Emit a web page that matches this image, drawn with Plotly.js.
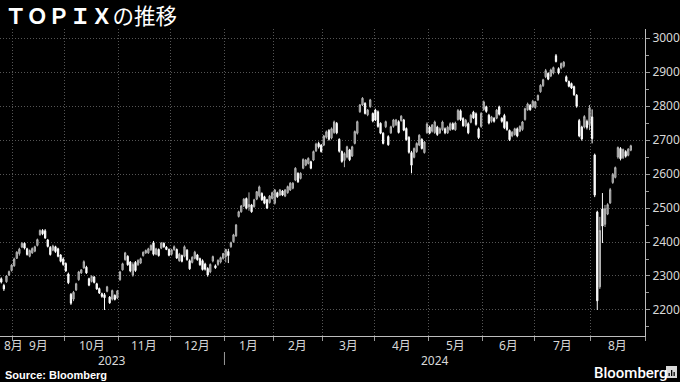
<!DOCTYPE html>
<html><head><meta charset="utf-8">
<script src="https://cdn.plot.ly/plotly-3.0.1.min.js"></script>
<style>html,body{margin:0;padding:0;background:#000;}#chart{width:680px;height:382px;}</style>
</head><body><div id="chart"></div>
<script>
const dates = [
'2023-08-25','2023-08-28','2023-08-29','2023-08-30','2023-08-31',
'2023-09-01','2023-09-04','2023-09-05','2023-09-06','2023-09-07','2023-09-08','2023-09-11','2023-09-12','2023-09-13','2023-09-14','2023-09-15','2023-09-19','2023-09-20','2023-09-21','2023-09-22','2023-09-25','2023-09-26','2023-09-27','2023-09-28','2023-09-29',
'2023-10-02','2023-10-03','2023-10-04','2023-10-05','2023-10-06','2023-10-10','2023-10-11','2023-10-12','2023-10-13','2023-10-16','2023-10-17','2023-10-18','2023-10-19','2023-10-20','2023-10-23','2023-10-24','2023-10-25','2023-10-26','2023-10-27','2023-10-30','2023-10-31',
'2023-11-01','2023-11-02','2023-11-06','2023-11-07','2023-11-08','2023-11-09','2023-11-10','2023-11-13','2023-11-14','2023-11-15','2023-11-16','2023-11-17','2023-11-20','2023-11-21','2023-11-22','2023-11-24','2023-11-27','2023-11-28','2023-11-29','2023-11-30',
'2023-12-01','2023-12-04','2023-12-05','2023-12-06','2023-12-07','2023-12-08','2023-12-11','2023-12-12','2023-12-13','2023-12-14','2023-12-15','2023-12-18','2023-12-19','2023-12-20','2023-12-21','2023-12-22','2023-12-25','2023-12-26','2023-12-27','2023-12-28','2023-12-29',
'2024-01-04','2024-01-05','2024-01-09','2024-01-10','2024-01-11','2024-01-12','2024-01-15','2024-01-16','2024-01-17','2024-01-18','2024-01-19','2024-01-22','2024-01-23','2024-01-24','2024-01-25','2024-01-26','2024-01-29','2024-01-30','2024-01-31',
'2024-02-01','2024-02-02','2024-02-05','2024-02-06','2024-02-07','2024-02-08','2024-02-09','2024-02-13','2024-02-14','2024-02-15','2024-02-16','2024-02-19','2024-02-20','2024-02-21','2024-02-22','2024-02-26','2024-02-27','2024-02-28','2024-02-29',
'2024-03-01','2024-03-04','2024-03-05','2024-03-06','2024-03-07','2024-03-08','2024-03-11','2024-03-12','2024-03-13','2024-03-14','2024-03-15','2024-03-18','2024-03-19','2024-03-21','2024-03-22','2024-03-25','2024-03-26','2024-03-27','2024-03-28','2024-03-29',
'2024-04-01','2024-04-02','2024-04-03','2024-04-04','2024-04-05','2024-04-08','2024-04-09','2024-04-10','2024-04-11','2024-04-12','2024-04-15','2024-04-16','2024-04-17','2024-04-18','2024-04-19','2024-04-22','2024-04-23','2024-04-24','2024-04-25','2024-04-26','2024-04-30',
'2024-05-01','2024-05-02','2024-05-07','2024-05-08','2024-05-09','2024-05-10','2024-05-13','2024-05-14','2024-05-15','2024-05-16','2024-05-17','2024-05-20','2024-05-21','2024-05-22','2024-05-23','2024-05-24','2024-05-27','2024-05-28','2024-05-29','2024-05-30','2024-05-31',
'2024-06-03','2024-06-04','2024-06-05','2024-06-06','2024-06-07','2024-06-10','2024-06-11','2024-06-12','2024-06-13','2024-06-14','2024-06-17','2024-06-18','2024-06-19','2024-06-20','2024-06-21','2024-06-24','2024-06-25','2024-06-26','2024-06-27','2024-06-28',
'2024-07-01','2024-07-02','2024-07-03','2024-07-04','2024-07-05','2024-07-08','2024-07-09','2024-07-10','2024-07-11','2024-07-12','2024-07-16','2024-07-17','2024-07-18','2024-07-19','2024-07-22','2024-07-23','2024-07-24','2024-07-25','2024-07-26','2024-07-29','2024-07-30','2024-07-31',
'2024-08-01','2024-08-02','2024-08-05','2024-08-06','2024-08-07','2024-08-08','2024-08-09','2024-08-13','2024-08-14','2024-08-15','2024-08-16','2024-08-19','2024-08-20','2024-08-21','2024-08-22','2024-08-23'
];
const openVals = [
2292,2272,2283,2303,2316,
2330,2352,2366,2385,2396,2380,2358,2368,2373,2390,2421,2434,2433,2406,2384,2376,2386,2380,2362,2350,
2337,2306,2246,2232,2259,2289,2309,2324,2326,2292,2284,2297,2277,2263,2248,2245,2255,2238,2232,2243,2235,
2289,2318,2348,2358,2341,2302,2340,2333,2338,2360,2368,2368,2377,2398,2364,2378,2382,2396,2385,2378,
2364,2378,2378,2345,2360,2358,2376,2345,2340,2352,2362,2351,2345,2335,2322,2312,2344,2330,2334,2341,2352,
2357,2372,2386,2401,2418,2475,2489,2506,2528,2503,2509,2504,2526,2536,2543,2533,2524,2516,2528,
2514,2545,2538,2550,2535,2545,2553,2558,2582,2602,2587,2617,2626,2631,2636,2641,2668,2690,2685,
2685,2708,2728,2706,2722,2749,2702,2666,2640,2650,2671,2653,2690,2720,2783,2803,2808,2774,2798,2778,
2788,2783,2749,2720,2739,2710,2721,2740,2745,2754,2757,2759,2734,2708,2663,2649,2666,2685,2702,2663,2722,
2738,2726,2722,2738,2721,2731,2733,2721,2730,2748,2730,2760,2786,2763,2741,2748,2752,2782,2777,2733,2740,
2790,2798,2773,2755,2764,2764,2797,2764,2772,2752,2728,2712,2716,2733,2726,2731,2760,2789,2802,2798,
2796,2818,2842,2860,2886,2896,2888,2897,2948,2910,2912,2917,2886,2872,2866,2857,2832,2757,2738,2738,2755,2745,
2768,2656,2488,2268,2497,2452,2482,2515,2575,2590,2650,2675,2648,2666,2655,2670
];
const highVals = [
2296,2277,2303,2316,2335,
2354,2373,2383,2400,2399,2383,2378,2384,2389,2410,2437,2438,2438,2409,2388,2392,2389,2383,2364,2355,
2340,2310,2250,2256,2280,2315,2320,2346,2330,2295,2302,2300,2280,2266,2251,2250,2271,2241,2260,2246,2259,
2315,2339,2371,2361,2344,2340,2344,2349,2354,2372,2378,2383,2393,2403,2383,2381,2400,2399,2388,2381,
2380,2390,2381,2368,2363,2390,2379,2349,2358,2374,2365,2354,2349,2339,2326,2337,2360,2334,2349,2357,2368,
2380,2380,2401,2424,2453,2492,2509,2529,2531,2546,2512,2527,2550,2566,2546,2536,2527,2538,2548,
2556,2548,2556,2553,2556,2566,2576,2576,2620,2605,2605,2646,2644,2649,2639,2669,2692,2695,2688,
2715,2728,2732,2737,2757,2753,2705,2669,2664,2683,2674,2683,2728,2757,2806,2826,2811,2791,2821,2781,
2792,2787,2752,2723,2757,2714,2742,2762,2762,2758,2773,2762,2737,2711,2668,2678,2693,2717,2705,2697,2752,
2742,2747,2757,2742,2737,2757,2737,2742,2752,2752,2754,2791,2790,2767,2762,2752,2777,2786,2781,2737,2782,
2816,2801,2777,2771,2767,2791,2801,2767,2777,2756,2731,2726,2736,2737,2743,2756,2795,2810,2806,2818,
2815,2834,2864,2880,2909,2899,2910,2916,2953,2914,2928,2932,2890,2875,2869,2860,2835,2762,2742,2773,2760,2803,
2790,2660,2492,2474,2544,2509,2514,2559,2603,2622,2681,2679,2675,2670,2676,2686
];
const lowVals = [
2278,2256,2280,2300,2313,
2327,2350,2360,2382,2378,2360,2355,2365,2370,2387,2419,2420,2409,2384,2360,2373,2368,2355,2340,2330,
2312,2276,2215,2226,2256,2286,2306,2321,2306,2270,2281,2278,2259,2247,2236,2200,2252,2218,2228,2228,2232,
2286,2316,2345,2330,2311,2298,2312,2330,2335,2357,2365,2365,2374,2360,2361,2357,2379,2383,2376,2358,
2360,2374,2350,2342,2340,2355,2345,2318,2337,2349,2345,2330,2316,2316,2298,2308,2340,2321,2330,2337,2348,
2340,2338,2383,2398,2415,2472,2486,2503,2496,2492,2486,2501,2523,2531,2521,2511,2497,2513,2525,
2510,2530,2535,2535,2532,2542,2550,2555,2579,2574,2584,2614,2623,2628,2614,2638,2665,2675,2663,
2682,2704,2698,2702,2718,2717,2663,2633,2620,2646,2638,2650,2687,2716,2780,2800,2775,2770,2795,2752,
2756,2736,2717,2687,2735,2683,2718,2736,2741,2719,2754,2726,2698,2660,2602,2646,2662,2682,2672,2660,2718,
2717,2722,2718,2712,2718,2727,2717,2718,2727,2729,2727,2757,2756,2739,2737,2717,2749,2762,2742,2703,2736,
2786,2780,2746,2751,2751,2761,2772,2751,2732,2727,2697,2708,2713,2708,2723,2727,2757,2786,2786,2794,
2792,2815,2839,2856,2882,2876,2885,2893,2928,2893,2908,2913,2870,2855,2850,2830,2795,2708,2698,2734,2731,2729,
2690,2532,2200,2262,2397,2444,2479,2512,2571,2587,2645,2640,2644,2648,2652,2667
];
const closeVals = [
2282,2262,2300,2313,2332,
2350,2370,2379,2396,2382,2363,2375,2381,2386,2407,2434,2424,2412,2387,2363,2388,2372,2358,2343,2334,
2315,2280,2220,2252,2277,2312,2318,2342,2309,2273,2299,2281,2262,2250,2240,2236,2268,2221,2257,2231,2256,
2312,2336,2368,2333,2315,2334,2316,2346,2351,2370,2375,2380,2390,2364,2380,2360,2397,2386,2378,2361,
2377,2386,2353,2364,2343,2386,2348,2321,2355,2370,2348,2333,2319,2320,2303,2334,2357,2324,2346,2354,2366,
2378,2360,2398,2421,2450,2489,2506,2526,2499,2510,2489,2524,2548,2562,2524,2514,2500,2535,2545,
2553,2533,2553,2538,2553,2563,2573,2573,2617,2577,2602,2643,2641,2646,2617,2666,2688,2680,2666,
2712,2724,2702,2733,2753,2721,2667,2637,2660,2680,2642,2680,2725,2754,2803,2823,2778,2788,2818,2756,
2759,2740,2720,2690,2754,2686,2739,2759,2759,2722,2770,2729,2701,2664,2626,2675,2690,2714,2675,2694,2747,
2720,2744,2753,2716,2733,2753,2721,2738,2748,2732,2750,2787,2760,2742,2758,2721,2773,2765,2746,2707,2778,
2812,2784,2750,2768,2755,2788,2776,2755,2736,2731,2701,2723,2733,2712,2740,2753,2792,2806,2789,2814,
2812,2831,2861,2877,2904,2879,2906,2913,2931,2897,2925,2929,2873,2858,2853,2833,2799,2712,2703,2769,2737,2794,
2704,2538,2227,2434,2447,2498,2510,2554,2599,2619,2678,2645,2672,2652,2673,2683
];
const monthLabels = ['8月','9月','10月','11月','12月','1月','2月','3月','4月','5月','6月','7月','8月'];
const yearLabels = ['2023','2024'];
const yTickVals = [2200,2300,2400,2500,2600,2700,2800,2900,3000];
const tradingDaysLeftInLastMonth = 5;

const W = 680, H = 382, M = {l:0, r:35, t:29, b:46};
const plotW = W - M.l - M.r, plotH = H - M.t - M.b;
const idx = dates.map((d, i) => i);
const xStart = -0.5, xEnd = dates.length - 0.5 + tradingDaysLeftInLastMonth;
const monthBounds = [], yearBounds = [];
for (let i = 1; i < dates.length; i++) {
  if (dates[i].slice(0,7) !== dates[i-1].slice(0,7)) monthBounds.push(i - 0.5);
  if (dates[i].slice(0,4) !== dates[i-1].slice(0,4)) yearBounds.push(i - 0.5);
}
const monthEdges = [xStart, ...monthBounds, xEnd];
const yearEdges = [xStart, ...yearBounds, xEnd];
const px2paperX = px => (px - M.l) / plotW;
const px2paperY = py => (H - M.b - py) / plotH;
const x2paper = v => (v - xStart) / (xEnd - xStart);

const lblFont = {family: 'Noto Sans, Noto Sans CJK JP', size: 12, color: '#d8d8d8'};
const annotations = [];
monthLabels.forEach((t, k) => {
  const c = (monthEdges[k] + monthEdges[k+1]) / 2;
  if (k === 0) {
    annotations.push({text: t, xref: 'paper', x: px2paperX(2), xanchor: 'left', yref: 'paper', y: px2paperY(345), yanchor: 'middle', showarrow: false, font: lblFont});
  } else {
    annotations.push({text: t, xref: 'paper', x: x2paper(c), xanchor: 'center', yref: 'paper', y: px2paperY(345), yanchor: 'middle', showarrow: false, font: lblFont});
  }
});
yearLabels.forEach((t, k) => {
  const c = (yearEdges[k] + yearEdges[k+1]) / 2;
  annotations.push({text: t, xref: 'paper', x: x2paper(c), xanchor: 'center', yref: 'paper', y: px2paperY(360), yanchor: 'middle', showarrow: false, font: lblFont});
});
annotations.push({text: '<b>Source: Bloomberg</b>', xref: 'paper', x: px2paperX(3), xanchor: 'left', yref: 'paper', y: px2paperY(374.5), yanchor: 'middle', showarrow: false, font: {family: 'Liberation Sans', size: 11, color: '#ffffff'}});
annotations.push({text: 'Bloomberg', xref: 'paper', x: px2paperX(592), xanchor: 'left', yref: 'paper', y: px2paperY(372.5), yanchor: 'middle', showarrow: false, font: {family: 'Roboto', size: 15, color: '#ffffff', weight: 500}});
annotations.push({text: '<b>ＴＯＰＩＸ</b>の推移', xref: 'paper', x: px2paperX(3), xanchor: 'left', yref: 'paper', y: px2paperY(14.5), yanchor: 'middle', showarrow: false, font: {family: 'Noto Sans CJK JP', size: 21.5, color: '#ffffff'}});

const shapes = yearBounds.map(b => ({type: 'line', xref: 'paper', yref: 'paper', x0: x2paper(b), x1: x2paper(b), y0: px2paperY(352), y1: px2paperY(365), line: {color: '#9a9a9a', width: 1}}));
shapes.push({type: 'rect', xref: 'paper', yref: 'paper', x0: px2paperX(666), x1: px2paperX(677), y0: px2paperY(366), y1: px2paperY(378), fillcolor: '#d9d9d9', line: {width: 0}});
[[668.5,373],[671,370],[673.5,372]].forEach(([bx, by]) => shapes.push({type: 'rect', xref: 'paper', yref: 'paper', x0: px2paperX(bx), x1: px2paperX(bx + 1.3), y0: px2paperY(376), y1: px2paperY(by), fillcolor: '#000', line: {width: 0}}));

const trace = {
  type: 'candlestick', x: idx, open: openVals, high: highVals, low: lowVals, close: closeVals,
  increasing: {line: {color: '#b5b5b5', width: 1}, fillcolor: '#7d7d7d'},
  decreasing: {line: {color: '#ffffff', width: 1}, fillcolor: '#ffffff'},
  whiskerwidth: 0, hoverinfo: 'skip'
};
const layout = {
  width: W, height: H, margin: M,
  paper_bgcolor: '#000', plot_bgcolor: '#000', showlegend: false,
  xaxis: {
    range: [xStart, xEnd], rangeslider: {visible: false}, zeroline: false,
    tickmode: 'array', tickvals: [...monthBounds, xEnd], showticklabels: false,
    ticks: 'outside', ticklen: 4, tickcolor: '#9a9a9a',
    showgrid: true, gridcolor: '#555555', griddash: '1px,2px', gridwidth: 1,
    showline: true, linecolor: '#bdbdbd', linewidth: 1, fixedrange: true
  },
  yaxis: {
    side: 'right', range: [2123.5, 3026.5], zeroline: false,
    tickmode: 'array', tickvals: yTickVals, ticktext: yTickVals.map(String),
    ticks: 'outside', ticklen: 4, tickcolor: '#9a9a9a',
    tickfont: {family: 'Noto Sans', size: 12, color: '#d8d8d8'},
    showgrid: true, gridcolor: '#555555', griddash: '1px,2px', gridwidth: 1,
    showline: true, linecolor: '#bdbdbd', linewidth: 1, fixedrange: true,
    minor: {dtick: 50, tick0: 2150, ticks: 'outside', ticklen: 3, tickcolor: '#9a9a9a', showgrid: false}
  },
  annotations: annotations, shapes: shapes
};
Plotly.newPlot('chart', [trace], layout, {staticPlot: true, displayModeBar: false});
</script>
</body></html>
